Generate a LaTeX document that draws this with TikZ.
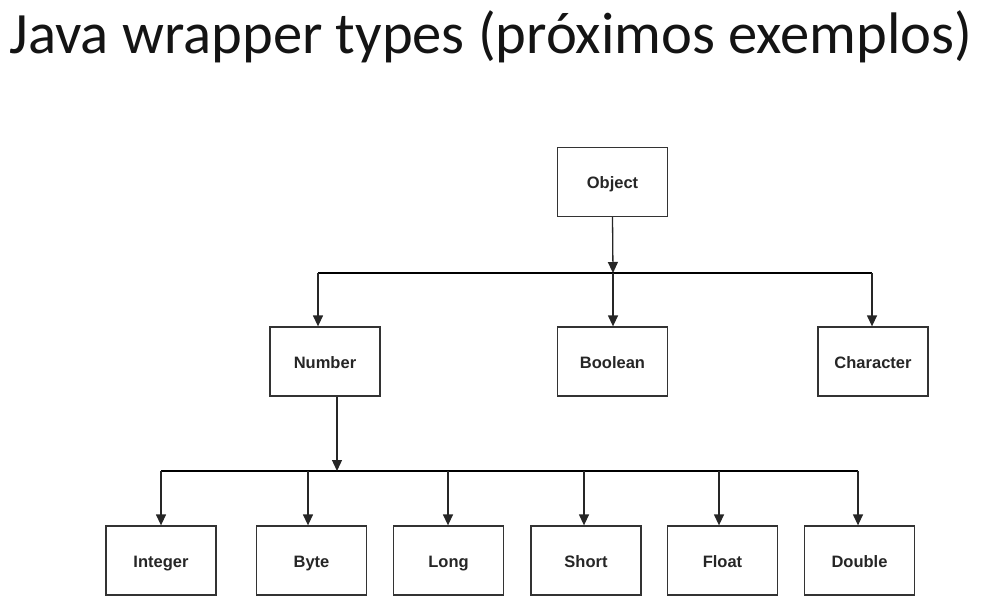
\documentclass[tikz,border=0pt]{standalone}
\usepackage{fontspec}
\setmainfont{Liberation Sans}
\newfontfamily\titlefont{Carlito}
\usetikzlibrary{arrows.meta}
\begin{document}
\begin{tikzpicture}[x=1pt,y=-1pt,
  box/.style={draw=black!80, line width=1.3pt, fill=white, minimum width=110pt, minimum height=69pt,
    inner sep=0pt, text height=16pt, text depth=2.2pt,
    font=\fontsize{16.5}{18}\selectfont\bfseries, text=black!85},
  conn/.style={draw=black!85, line width=1.3pt, -{Triangle[length=11pt,width=10pt]}},
  bar/.style={draw=black, line width=2.4pt}]
\useasboundingbox (0,0) rectangle (982,614);
\node[anchor=base, text=black!92, font=\titlefont\fontsize{58.6}{62}\selectfont] (title) at (491,53) {Java wrapper types (próximos exemplos)};

\node[box] (object) at (612.5,182) {Object};
\node[box] (number) at (325,361.5) {Number};
\node[box] (boolean) at (612.5,361.5) {Boolean};
\node[box] (character) at (873,361.5) {Character};

\node[box] (integer) at (161,560.5) {Integer};
\node[box] (byte) at (311.5,560.5) {Byte};
\node[box] (long) at (448.5,560.5) {Long};
\node[box] (short) at (586,560.5) {Short};
\node[box] (float) at (722.5,560.5) {Float};
\node[box] (double) at (859.5,560.5) {Double};

% top level bar
\coordinate (tl) at (318,273);
\coordinate (tm) at (613,273);
\coordinate (tr) at (872,273);
\draw[bar] (tl) -- (tr);
\draw[conn] (object.south) -- (tm);
\draw[conn] (tl) -- (tl |- number.north);
\draw[conn] (tm) -- (tm |- boolean.north);
\draw[conn] (tr) -- (tr |- character.north);

% bottom bar
\coordinate (nb) at (337,471);
\coordinate (b1) at (161,471);
\coordinate (b2) at (308,471);
\coordinate (b3) at (448,471);
\coordinate (b4) at (584,471);
\coordinate (b5) at (719,471);
\coordinate (b6) at (858,471);
\draw[bar] (b1) -- (b6);
\draw[conn] (nb |- number.south) -- (nb);
\draw[conn] (b1) -- (b1 |- integer.north);
\draw[conn] (b2) -- (b2 |- byte.north);
\draw[conn] (b3) -- (b3 |- long.north);
\draw[conn] (b4) -- (b4 |- short.north);
\draw[conn] (b5) -- (b5 |- float.north);
\draw[conn] (b6) -- (b6 |- double.north);
\end{tikzpicture}
\end{document}
